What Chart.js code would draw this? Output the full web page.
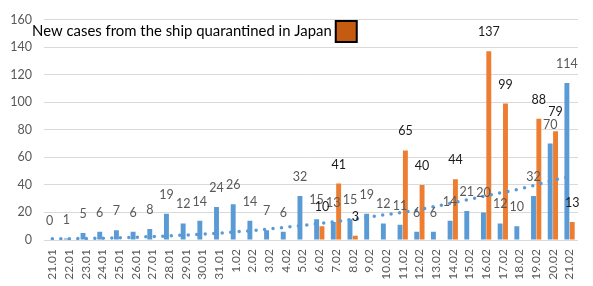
<!DOCTYPE html>
<html>
<head>
<meta charset="utf-8">
<script src="https://cdn.jsdelivr.net/npm/chart.js@4.4.1/dist/chart.umd.min.js"></script>
<style>
  html, body { margin: 0; padding: 0; background: #fff; }
  #wrap { width: 593px; height: 286px; position: relative; }
</style>
</head>
<body>
<div id="wrap"><canvas id="chart"></canvas></div>
<script>
// Daily new cases, 21.01 - 21.02
const days = ['21.01', '22.01', '23.01', '24.01', '25.01', '26.01', '27.01', '28.01', '29.01', '30.01', '31.01',
  '1.02', '2.02', '3.02', '4.02', '5.02', '6.02', '7.02', '8.02', '9.02', '10.02', '11.02', '12.02', '13.02',
  '14.02', '15.02', '16.02', '17.02', '18.02', '19.02', '20.02', '21.02'];

const casesJapan = [0, 1, 5, 6, 7, 6, 8, 19, 12, 14, 24, 26, 14, 7, 6, 32, 15, 13, 15, 19, 12, 11, 6, 6,
  14, 21, 20, 12, 10, 32, 70, 114];

const casesShip = [null, null, null, null, null, null, null, null, null, null, null, null, null, null, null, null,
  10, 41, 3, null, null, 65, 40, null, 44, null, 137, 99, null, 88, 79, 13];

// dotted trend line
const trendValues = [0.9, 0.9, 1.1, 1.3, 1.6, 2.0, 2.5, 3.0, 3.6, 4.3, 5.0, 5.9, 6.9, 8.0, 9.2, 10.6,
  12.0, 13.4, 15.0, 16.7, 18.5, 20.0, 22.0, 24.5, 27.0, 29.5, 32.0, 34.5, 37.0, 40.0, 43.3, 46.0];

const yTicks = [0, 20, 40, 60, 80, 100, 120, 140, 160];

const legendText = 'New cases from the ship quarantined in Japan';

const FONT = 'Lato, "Open Sans", sans-serif';

// value labels above each bar
const barLabels = {
  id: 'barLabels',
  afterDatasetsDraw(chart) {
    const ctx = chart.ctx;
    ctx.save();
    ctx.font = '12.5px ' + FONT;
    ctx.textAlign = 'center';
    ctx.textBaseline = 'middle';
    [0, 1].forEach(di => {
      const ds = chart.data.datasets[di];
      const meta = chart.getDatasetMeta(di);
      ctx.fillStyle = di === 0 ? '#595959' : '#1a1a1a';
      meta.data.forEach((bar, i) => {
        const v = ds.data[i];
        if (v === null || v === undefined) return;
        ctx.fillText(String(v), bar.x, bar.y - 19);
      });
    });
    ctx.restore();
  }
};

// text + orange box in the top of the plot
const shipNote = {
  id: 'shipNote',
  afterDraw(chart) {
    const ctx = chart.ctx;
    ctx.save();
    ctx.font = '14.9px ' + FONT;
    ctx.fillStyle = '#000';
    ctx.textBaseline = 'middle';
    ctx.textAlign = 'left';
    ctx.fillText(legendText, 32, 31);
    const w = ctx.measureText(legendText).width;
    const bx = 32 + w + 4;
    ctx.fillStyle = '#C55A11';
    ctx.fillRect(bx, 21, 21, 21);
    ctx.strokeStyle = '#000';
    ctx.lineWidth = 2;
    ctx.strokeRect(bx, 21, 21, 21);
    ctx.restore();
  }
};

new Chart(document.getElementById('chart'), {
  type: 'bar',
  data: {
    labels: days,
    datasets: [
      {
        label: 'Japan',
        data: casesJapan,
        backgroundColor: '#5B9BD5',
        categoryPercentage: 0.64,
        barPercentage: 0.92,
        order: 1
      },
      {
        label: 'Ship',
        data: casesShip,
        backgroundColor: '#ED7D31',
        categoryPercentage: 0.64,
        barPercentage: 0.92,
        order: 2
      },
      {
        type: 'line',
        label: 'Trend',
        data: trendValues,
        borderColor: '#5B9BD5',
        borderWidth: 3.5,
        borderDash: [0, 8.5],
        borderCapStyle: 'round',
        pointRadius: 0,
        tension: 0,
        fill: false,
        order: 0
      }
    ]
  },
  options: {
    responsive: true,
    maintainAspectRatio: false,
    animation: false,
    layout: { padding: { top: 11, right: 3, left: 0, bottom: 0 } },
    plugins: {
      legend: { display: false },
      tooltip: { enabled: false }
    },
    scales: {
      x: {
        grid: { display: false, drawTicks: false },
        border: { display: false },
        ticks: {
          color: '#595959',
          font: { family: FONT, size: 12 },
          maxRotation: 90,
          minRotation: 90,
          padding: 9,
          autoSkip: false
        },
        afterFit(scale) { scale.height = 46; }
      },
      y: {
        min: 0,
        max: 160,
        afterBuildTicks(scale) { scale.ticks = yTicks.map(v => ({ value: v })); },
        grid: { color: '#D9D9D9', lineWidth: 1, drawTicks: false },
        border: { display: false },
        ticks: {
          color: '#595959',
          font: { family: FONT, size: 12.5 },
          padding: 12
        },
        afterFit(scale) { scale.width = 44; }
      }
    }
  },
  plugins: [barLabels, shipNote]
});
</script>
</body>
</html>
